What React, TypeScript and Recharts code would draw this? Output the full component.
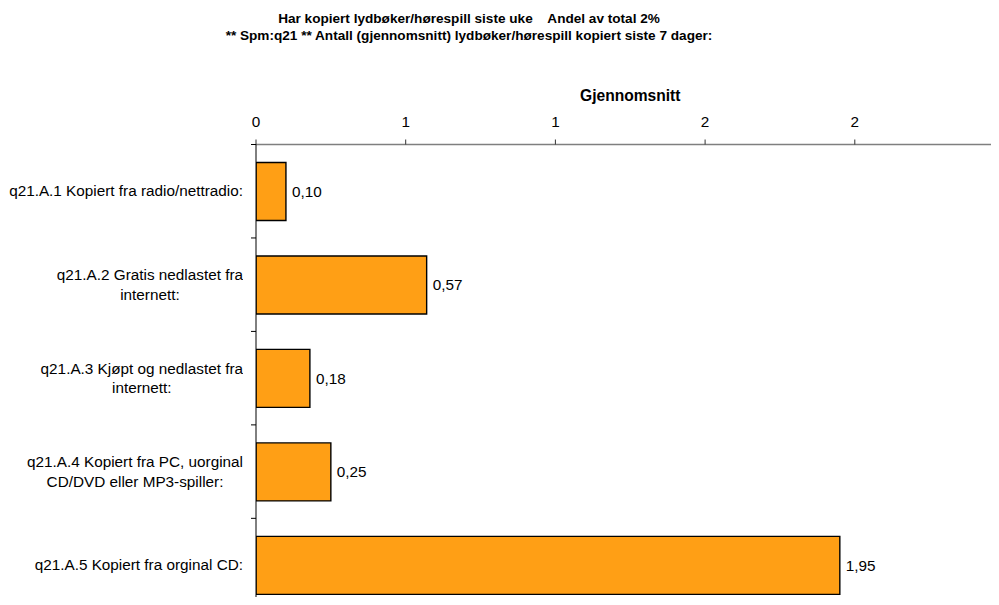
import { Bar, BarChart, LabelList, XAxis, YAxis } from 'recharts';

const categories = [
  'q21.A.1 Kopiert fra radio/nettradio:',
  'q21.A.2 Gratis nedlastet fra\ninternett:',
  'q21.A.3 Kjøpt og nedlastet fra\ninternett:',
  'q21.A.4 Kopiert fra PC, uorginal\nCD/DVD eller MP3-spiller:',
  'q21.A.5 Kopiert fra orginal CD:',
];
const averages = [0.1, 0.57, 0.18, 0.25, 1.95];
const xTicks = [0, 0.5, 1, 1.5, 2];
const xTickLabels = ['0', '1', '1', '2', '2'];
const titleLines = [
  'Har kopiert lydbøker/hørespill siste uke    Andel av total 2%',
  '** Spm:q21 ** Antall (gjennomsnitt) lydbøker/hørespill kopiert siste 7 dager:',
];
const axisTitle = 'Gjennomsnitt';

const data = categories.map((name, i) => ({ name, value: averages[i] }));

const font = '"Liberation Sans", Arial, sans-serif';

// label block right aligned to the axis, lines centred; tick mark on band edges
const CategoryTick = (props: any) => {
  const { x, y, payload, index } = props;
  const half = payload?.offset ?? 0;
  return (
    <g>
      {index === 0 && <line x1={x - 5} x2={x} y1={y - half} y2={y - half} stroke="#000" />}
      <line x1={x - 5} x2={x} y1={y + half} y2={y + half} stroke="#000" />
      <foreignObject x={x - 13 - 260} y={y - 40} width={260} height={80}>
        <div
          style={{
            display: 'flex',
            height: '100%',
            alignItems: 'center',
            justifyContent: 'flex-end',
          }}
        >
          <div
            style={{
              textAlign: 'center',
              whiteSpace: 'pre-line',
              fontFamily: font,
              fontSize: 15.3,
              lineHeight: '19.5px',
              color: '#000',
            }}
          >
            {payload.value}
          </div>
        </div>
      </foreignObject>
    </g>
  );
};

export default function App() {
  return (
    <div style={{ position: 'relative', width: 991, height: 597, marginBottom: -8 }}>
      <div
        style={{
          position: 'absolute',
          left: 0,
          top: 2,
          width: 922,
          textAlign: 'center',
          fontFamily: font,
          fontWeight: 'bold',
          fontSize: 13.6,
          lineHeight: '17px',
          whiteSpace: 'pre',
          color: '#000',
        }}
      >
        {titleLines.map((t) => (
          <div key={t}>{t}</div>
        ))}
      </div>
      <BarChart
        width={991}
        height={597}
        data={data}
        layout="vertical"
        margin={{ top: 82, right: -5.5, bottom: -6.8, left: 8 }}
      >
        <XAxis
          type="number"
          orientation="top"
          domain={[0, 2.5]}
          ticks={xTicks}
          tickFormatter={(_v: number, i: number) => xTickLabels[i]}
          height={54.5}
          tickSize={5}
          tickMargin={13}
          axisLine={{ stroke: '#7f7f7f', strokeWidth: 1.5 }}
          tickLine={{ stroke: '#333' }}
          tick={{ fill: '#000', fontSize: 15.3, fontFamily: font }}
          allowDataOverflow
          label={{
            value: axisTitle,
            position: 'insideTop',
            offset: 0,
            fill: '#000',
            fontSize: 15.6,
            fontWeight: 'bold',
            fontFamily: font,
          }}
        />
        <YAxis
          type="category"
          dataKey="name"
          width={240}
          tickSize={0}
          tickMargin={0}
          tickLine={false}
          axisLine={{ stroke: '#000' }}
          tick={<CategoryTick />}
          interval={0}
        />
        <Bar
          dataKey="value"
          fill="#FF9F15"
          stroke="#000"
          strokeWidth={1.4}
          barSize={58}
          isAnimationActive={false}
        >
          <LabelList
            dataKey="value"
            position="right"
            offset={6}
            fill="#000"
            fontSize={15.3}
            fontFamily={font}
            formatter={(v: any) => Number(v).toFixed(2).replace('.', ',')}
          />
        </Bar>
      </BarChart>
    </div>
  );
}
